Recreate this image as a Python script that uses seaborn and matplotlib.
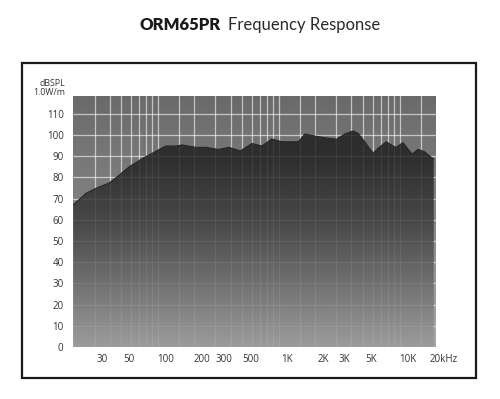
import numpy as np
import pandas as pd
import seaborn as sns
import matplotlib.pyplot as plt
from matplotlib.colors import LinearSegmentedColormap
from matplotlib.patches import Rectangle
from matplotlib.transforms import ScaledTranslation

# response curve (Hz, dB SPL @ 1W/1m)
freq_hz = [20, 25.5, 31, 40, 48, 58, 75, 90, 116, 141, 159, 205, 248, 320,
           386, 482, 601, 726, 877, 1060, 1456, 1652, 1996, 2414, 3008, 3526,
           4126, 4536, 5152, 6026, 6627, 7755, 8808, 9376, 10640, 12700,
           14150, 16070, 19150]
spl_db = [67, 72.5, 74.9, 77.5, 81.1, 85, 89, 91.4, 94.8, 94.8, 95.3, 94.2,
          94.2, 93.2, 94.2, 92.5, 96, 94.8, 98.1, 96.8, 96.8, 100.5, 99.5,
          98.7, 98, 100.5, 101.9, 100.8, 96.8, 91.4, 93.7, 96.8, 94.8, 94.2,
          96.4, 91, 93.2, 92.1, 88.5]

x_ticks = [30, 50, 100, 200, 300, 500, 1000, 2000, 3000, 5000, 10000, 20000]
x_labels = ["30", "50", "100", "200", "300", "500", "1K", "2K", "3K", "5K",
            "10K", "20kHz"]
y_ticks = list(range(0, 111, 10))

grid_freqs = [30, 40, 50, 60, 70, 80, 90, 100, 150, 200, 300, 400, 500, 600,
              700, 800, 900, 1000, 1500, 2000, 3000, 4000, 5000, 6000, 7000,
              8000, 9000, 10000, 15000]

df = pd.DataFrame({"freq": freq_hz, "spl": spl_db})

sns.set_theme(style="white")
plt.rcParams["font.family"] = ["Open Sans", "DejaVu Sans"]

fig = plt.figure(figsize=(5, 3.99), dpi=100)
ax = fig.add_axes([73.3 / 500, 1 - 347 / 399, (436 - 73.3) / 500, (347 - 96) / 399])
ax.set_xscale("log")
xlim = (20, 19100)
ylim = (0, 118.4)

# background gradient (lighter toward the bottom)
bg_cmap = LinearSegmentedColormap.from_list("bg", ["#a8a8a8", "#858585", "#6a6a6a"])
grad = np.linspace(0, 1, 256).reshape(-1, 1)
ax.imshow(grad, extent=[0, 1, 0, 1], transform=ax.transAxes, aspect="auto",
          cmap=bg_cmap, origin="lower", zorder=0)

# grid
for f in grid_freqs:
    ax.axvline(f, color="white", alpha=0.6, lw=0.9, zorder=1)
for v in y_ticks[1:]:
    ax.axhline(v, color="white", alpha=0.6, lw=0.9, zorder=1)

# dark gradient fill under the response
fill = ax.fill_between(df["freq"], df["spl"], 0, color="none", lw=0, zorder=2)
fill_cmap = LinearSegmentedColormap.from_list(
    "fill", ["#9a9a9a", "#6a6a6a", "#3c3c3c", "#222222", "#1a1a1a"])
img = ax.imshow(grad, extent=[0, 1, 0, 1], transform=ax.transAxes, aspect="auto",
                cmap=fill_cmap, origin="lower", zorder=2, alpha=0.84)
img.set_clip_path(fill.get_paths()[0], transform=ax.transData)
sns.lineplot(data=df, x="freq", y="spl", ax=ax, color="#262626", lw=0.8, zorder=3)

ax.set_xlim(*xlim)
ax.set_ylim(*ylim)
ax.set_xticks(x_ticks)
ax.set_xticklabels(x_labels)
ax.minorticks_off()
ax.set_yticks(y_ticks)
ax.set_xlabel("")
ax.set_ylabel("")
ax.tick_params(axis="both", length=0, labelsize=7, colors="#333333")
ax.tick_params(axis="y", pad=7)
ax.tick_params(axis="x", pad=5)
for lab in ax.get_xticklabels():
    lab.set_transform(lab.get_transform() + ScaledTranslation(8 / 100, 0, fig.dpi_scale_trans))
for s in ax.spines.values():
    s.set_visible(False)

fig.text(65 / 500, 1 - 84 / 399, "dBSPL", ha="right", va="center", fontsize=6.3, color="#333333")
fig.text(65 / 500, 1 - 92.5 / 399, "1.0W/m", ha="right", va="center", fontsize=6.3, color="#333333")

# outer frame
fig.patches.append(Rectangle((22 / 500, 1 - 378 / 399), 454 / 500, 315 / 399,
                             transform=fig.transFigure, fill=False,
                             edgecolor="#1a1a1a", lw=1.6))

# title
fig.text(221 / 500, 1 - 25 / 399, "ORM65PR", ha="right", va="center",
         fontsize=12, fontweight="heavy", family="Lato", color="#1a1a1a")
fig.text(228 / 500, 1 - 25 / 399, "Frequency Response", ha="left", va="center",
         fontsize=12, family="Lato", color="#2a2a2a")

fig.savefig("out.png", dpi=100, facecolor="white")
